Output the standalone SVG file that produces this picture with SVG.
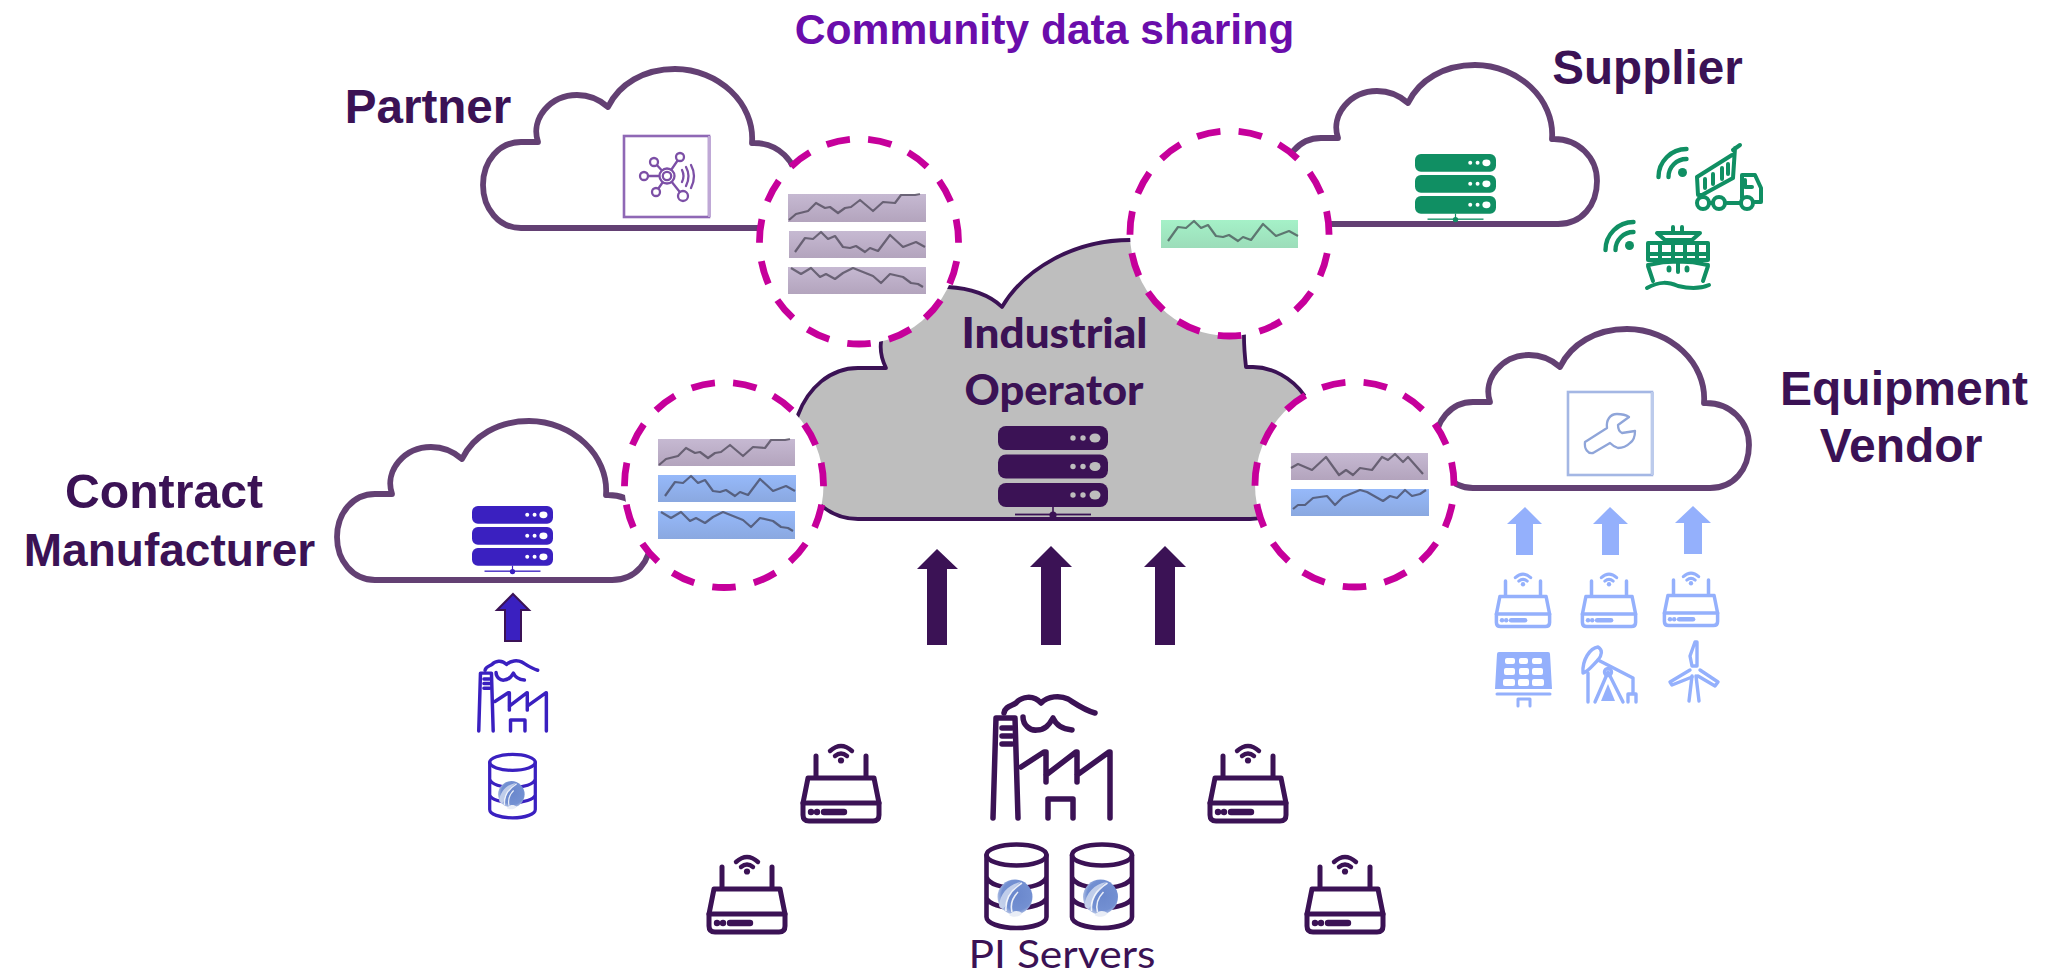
<svg xmlns="http://www.w3.org/2000/svg" xmlns:xlink="http://www.w3.org/1999/xlink" width="2045" height="976" viewBox="0 0 2045 976">
<style>
.cloud{fill:#fff;stroke:#634073;stroke-width:5.8;stroke-linejoin:round}
.ring{fill:#fff;stroke:#C6009B;stroke-width:6.8;stroke-dasharray:22.5 17.5;stroke-dashoffset:21.25}
.lab{font-family:"Liberation Sans",Arial,sans-serif;font-weight:700;font-size:47.6px;fill:#3B1255;text-anchor:middle}
.trace{fill:none;stroke:#33303f;stroke-opacity:.62;stroke-width:2.2;stroke-linejoin:round}
.ic{fill:none;stroke:currentColor;stroke-linecap:round;stroke-linejoin:round}
.f{fill:currentColor;stroke:none}
.dot{fill:var(--d,#fff)}
.cal{font-family:Lato,"Open Sans",sans-serif;fill:#3B1255;text-anchor:middle}
.dk{color:#3B1255}.bl{color:#3A20C0}.lb{color:#94B0FC}.gr{color:#108F63}
</style>
<defs>
<linearGradient id="gL" x1="0" y1="0" x2="0" y2="1"><stop offset="0" stop-color="#C6B9D2"/><stop offset="1" stop-color="#B3A4BD"/></linearGradient>
<linearGradient id="gB" x1="0" y1="0" x2="0" y2="1"><stop offset="0" stop-color="#96B9FA"/><stop offset="1" stop-color="#8AA8E0"/></linearGradient>
<linearGradient id="gG" x1="0" y1="0" x2="0" y2="1"><stop offset="0" stop-color="#A5F1C8"/><stop offset="1" stop-color="#9CDDBA"/></linearGradient>
<radialGradient id="gLogo" cx=".55" cy=".45" r=".6"><stop offset="0" stop-color="#6A87CC"/><stop offset=".72" stop-color="#7390D2"/><stop offset="1" stop-color="#C5D0EA"/></radialGradient>
<path id="cl" class="cloud" d="M375 580C353 580 337 561 337 537C337 513 353 494 375 494L392 494C384 470 405 447 431 447C443 447 453 451 462 459C473 436 498 421 529 421C572 421 609 455 606 495L608 495C632 495 651 513 651 537C651 561 636 580 612 580Z"/>
<polyline id="t1" class="trace" points="1,26 8,20 20,17 28,9 37,14 42,13 50,19 57,14 63,13 72,6 85,17 95,8 107,9 113,1 127,1 132,0"/>
<polyline id="t2" class="trace" points="7,21 17,7 25,8 33,1 40,8 47,5 55,16 62,17 68,15 77,21 82,17 90,20 102,4 115,16 128,11 137,16"/>
<polyline id="t3" class="trace" points="3,1 13,7 23,1 32,10 38,7 47,12 55,6 65,1 75,5 85,9 93,16 102,7 115,10 123,16 130,17 135,20"/>
<polyline id="t4" class="trace" points="0,15 7,11 21,17 35,4 48,22 55,17 62,22 69,15 81,17 91,4 97,7 104,1 112,9 117,4 132,21"/>
<polyline id="t5" class="trace" points="2,20 7,16 14,16 22,9 36,7 44,16 52,8 69,1 76,3 92,12 99,7 106,9 114,1 121,7 129,5 135,1"/>
<g id="srv">
<rect width="110" height="24" rx="8"/><rect y="28.5" width="110" height="24" rx="8"/><rect y="57" width="110" height="24" rx="8"/>
<g class="dot"><circle cx="75" cy="12" r="2.7"/><circle cx="85" cy="12" r="2.7"/><ellipse cx="97" cy="12" rx="5.5" ry="4.6"/><circle cx="75" cy="40.5" r="2.7"/><circle cx="85" cy="40.5" r="2.7"/><ellipse cx="97" cy="40.5" rx="5.5" ry="4.6"/><circle cx="75" cy="69" r="2.7"/><circle cx="85" cy="69" r="2.7"/><ellipse cx="97" cy="69" rx="5.5" ry="4.6"/></g>
<rect x="54.2" y="81" width="1.6" height="9"/><rect x="17" y="87.6" width="76" height="1.8"/><circle cx="55" cy="89" r="3.6"/>
</g>
<g id="rt">
<g class="ic" stroke-width="5">
<path d="M-25 13V35M25 13V35M-33 35H33M-33 35L-38 60M33 35L38 60"/>
<path d="M-38 60H38V72Q38 78 32 78H-32Q-38 78 -38 72Z"/>
<path d="M-11 8Q0 -2 11 8M-6 13Q0 8 6 13" stroke-width="4.4"/>
<path d="M-17 69H3" stroke-width="6.4"/>
</g>
<circle class="f" cx="0" cy="17.5" r="3.1"/><circle class="f" cx="-30" cy="69" r="3.2"/><circle class="f" cx="-24" cy="69" r="3.2"/>
</g>
<g id="fac" class="ic">
<path d="M993 818L996 718H1015L1018 818"/>
<path d="M1002 728H1012M1002 736H1012M1002 744H1012"/>
<path d="M1021 767L1044 752H1046V782M1046 775L1076 752H1077V782M1077 775L1109 752H1110V818"/>
<path d="M1048 818V799H1073V818"/>
<path d="M1004 713C1005 706 1012 706 1016 703C1021 697 1033 694 1041 703C1048 696 1060 695 1068 699C1076 704 1084 710 1095 713"/>
<path d="M1023 717C1023 725 1030 731 1037 730C1045 730 1049 725 1053 718C1056 725 1062 729 1072 730"/>
</g>
<g id="db">
<g class="ic"><ellipse cx="0" cy="11" rx="30" ry="10.5"/><path d="M-30 11V73C-30 79 -17 84 0 84C17 84 30 79 30 73V11M-30 33C-28 40 -15 44 0 44C15 44 28 40 30 33M-30 54C-28 60 -15 64 0 64C15 64 28 60 30 54"/></g>
<g transform="translate(-1.5,53)">
<circle r="17.5" fill="url(#gLogo)"/>
<path d="M-16 9C-15 -4 -6 -13 6 -15C-2 -9 -6 -3 -8 6C-10 11 -13 14 -16 9Z" fill="#C9D4EC" fill-opacity=".9"/>
<path d="M-9 14C-10 3 -4 -7 7 -14M-3 15C-5 7 -2 0 3 -5" fill="none" stroke="#fff" stroke-width="1.6" stroke-opacity=".85"/>
<path d="M-6 18C-2 13 3 13 7 16C6 20 -3 21 -6 18Z" fill="#E9EDF6"/>
</g>
</g>
<g id="wq" class="ic" stroke-width="4.4"><path d="M-28 0A28 28 0 0 1 0 -28M-18 0A18 18 0 0 1 0 -18"/><circle class="f" cx="-4" cy="-4.5" r="4.5"/></g>
</defs>

<g id="partner-cloud"><use href="#cl" transform="translate(146,-352)"/></g>
<g id="supplier-cloud"><use href="#cl" transform="translate(946,-356)"/></g>
<g id="contract-cloud"><use href="#cl"/></g>
<g id="equipment-cloud"><use href="#cl" transform="translate(1098,-92)"/></g>

<g id="operator-cloud">
<path fill="#BEBEBE" stroke="#3B1255" stroke-width="3.8" stroke-linejoin="round" d="M858 519C842 519 832 514 823 507C790 490 785 445 798 415C808 388 830 368 858 368L886 368C881 358 880 350 881 342C879 310 910 285 948 287C970 288 990 295 1002 307C1025 268 1075 240 1130 240C1190 240 1245 285 1244 337C1244 348 1245 358 1246 367L1253 367C1272 367 1292 378 1304 395C1320 420 1310 519 1250 519Z"/>
<text class="cal" x="1054.5" y="347.5" font-weight="900" font-size="42" textLength="186" lengthAdjust="spacingAndGlyphs">Industrial</text>
<text class="cal" x="1054" y="405" font-weight="900" font-size="42" textLength="179" lengthAdjust="spacingAndGlyphs">Operator</text>
<use href="#srv" transform="translate(998,426)" fill="#3B1255" style="--d:#BEBEBE"/>
</g>

<g id="partner-share">
<ellipse class="ring" cx="859" cy="241.5" rx="99.5" ry="102.5" pathLength="600"/>
<g transform="translate(788,194)"><rect width="138" height="28" fill="url(#gL)"/><use href="#t1"/></g>
<g transform="translate(789,231)"><rect width="137" height="27" fill="url(#gL)"/><use href="#t2" x="-1"/></g>
<g transform="translate(788,267)"><rect width="138" height="27" fill="url(#gL)"/><use href="#t3"/></g>
</g>
<g id="supplier-share">
<ellipse class="ring" cx="1229.5" cy="233.5" rx="99.5" ry="102.5" pathLength="600"/>
<g transform="translate(1161,220)"><rect width="137" height="28" fill="url(#gG)"/><use href="#t2"/></g>
</g>
<g id="contract-share">
<ellipse class="ring" cx="724" cy="485" rx="99.5" ry="102.5" pathLength="600"/>
<g transform="translate(658,439)"><rect width="137" height="27" fill="url(#gL)"/><use href="#t1"/></g>
<g transform="translate(658,475)"><rect width="138" height="27" fill="url(#gB)"/><use href="#t2"/></g>
<g transform="translate(658,511)"><rect width="137" height="28" fill="url(#gB)"/><use href="#t3"/></g>
</g>
<g id="equipment-share">
<ellipse class="ring" cx="1354.5" cy="484.5" rx="99.5" ry="102.5" pathLength="600"/>
<g transform="translate(1291,453)"><rect width="137" height="27" fill="url(#gL)"/><use href="#t4"/></g>
<g transform="translate(1291,489)"><rect width="138" height="27" fill="url(#gB)"/><use href="#t5"/></g>
</g>

<g id="connectors">
<path fill="#3B1255" d="M937 549L958 569H947V645H927V569H917Z"/>
<path fill="#3B1255" d="M1051 546L1072 567H1061V645H1041V567H1030Z"/>
<path fill="#3B1255" d="M1165 546L1186 567H1175V645H1155V567H1144Z"/>
<path fill="#3A20C0" stroke="#3B1255" stroke-width="2" d="M513 594L529 610H521V641H505V610H497Z"/>
<path fill="#94B0FC" d="M1525 507L1542 524H1533V555H1516V524H1507Z"/>
<path fill="#94B0FC" d="M1610 507L1628 524H1619V555H1602V524H1593Z"/>
<path fill="#94B0FC" d="M1693 506L1711 523H1702V554H1684V523H1675Z"/>
</g>

<g id="title"><text x="1044.5" y="44" font-family="'Liberation Sans',Arial,sans-serif" font-weight="700" font-size="42.6" fill="#6A0DAB" text-anchor="middle">Community data sharing</text></g>

<g id="partner">
<text class="lab" x="428" y="123">Partner</text>
<rect x="624" y="136" width="85" height="81" fill="#fff" stroke="#8F68B5" stroke-width="2.6"/>
<path d="M709 136V217" stroke="#BFA8D6" stroke-width="3" transform="translate(0.5,0)"/>
<g fill="none" stroke="#7C4FA6" stroke-width="2.3" stroke-linecap="round">
<path d="M667 176L654 162M667 176L680 157M667 176H644M667 176L656 192M667 176L683 196"/>
<path d="M682 170Q685 176 682 182M686 167Q691 176 686 186M691 165Q697 176 691 188"/>
<circle cx="654" cy="162" r="4" fill="#fff"/><circle cx="680" cy="157" r="4" fill="#fff"/><circle cx="644" cy="176" r="4" fill="#fff"/><circle cx="656" cy="192" r="4" fill="#fff"/><circle cx="683" cy="196" r="5" fill="#fff"/>
<circle cx="667" cy="176" r="7.5" fill="#fff"/><circle cx="667" cy="176" r="4.2"/>
</g>
</g>

<g id="supplier" class="gr">
<text class="lab" x="1647.5" y="84">Supplier</text>
<use href="#srv" transform="translate(1415,154) scale(.7364)" fill="#108F63"/>
<use href="#wq" transform="translate(1686.5,177)"/>
<use href="#wq" transform="translate(1633.5,250)"/>
<g class="ic" stroke-width="4">
<path d="M1697 177L1732 155M1733 150L1740 145M1735 148L1733 178L1702 195H1698L1697 177"/>
<path d="M1705 179V188M1713 174V184M1722 168V179M1728 164V174"/>
<path d="M1742 175H1755L1761 188V202H1755M1742 175V198M1745 180V187H1752M1710 203H1712M1727 203H1740"/>
<circle cx="1703" cy="203" r="6"/><circle cx="1719" cy="203" r="6"/><circle cx="1747" cy="203" r="6"/>
</g>
<g class="ic" stroke-width="4">
<path d="M1673 227V232M1682 227V232M1657 233H1700L1692 240H1665Z"/>
<rect x="1648" y="243" width="60" height="17"/>
<path d="M1660 243V260M1673 243V260M1685 243V260M1697 243V260M1648 254H1708"/>
<path d="M1648 265Q1678 258 1708 265M1648 266L1653 281M1708 266L1703 281M1678 264V272"/>
<path d="M1647 288C1660 281 1668 282 1678 286C1690 289 1700 289 1709 285"/>
<ellipse class="f" cx="1669" cy="269" rx="2.5" ry="3.6"/><ellipse class="f" cx="1687" cy="269" rx="2.5" ry="3.6"/>
</g>
</g>

<g id="contract" class="bl">
<text class="lab" x="164" y="508" style="font-size:48.2px">Contract</text>
<text class="lab" x="169.5" y="566" style="font-size:46px">Manufacturer</text>
<use href="#srv" transform="translate(472,506) scale(.7364)" fill="#3A20C0"/>
<use href="#fac" transform="translate(477,661) scale(.578) translate(-990,-697)" stroke-width="6"/>
<use href="#db" transform="translate(512.5,754) scale(.76)" stroke-width="4.3"/>
</g>

<g id="equipment" class="lb">
<text class="lab" x="1904" y="405" style="font-size:48px">Equipment</text>
<text class="lab" x="1901" y="462" style="font-size:48px">Vendor</text>
<rect x="1568" y="392" width="84" height="83" fill="#fff" stroke="#A4B7E4" stroke-width="2.6"/>
<path d="M1652.5 392V475" stroke="#BCCBEC" stroke-width="3"/>
<path fill="none" stroke="#8FA5D9" stroke-width="2.3" stroke-linejoin="round" d="M1585 442L1607 428C1606 420 1610 414 1617 414C1622 414 1626 415 1629 417L1618 425C1618 429 1620 432 1622 433L1635 431C1635 437 1633 441 1630 443C1626 447 1621 448 1618 448C1615 447 1612 445 1610 443L1593 453C1588 454 1584 449 1585 442Z"/>
<use href="#rt" transform="translate(1523,572) scale(.7)"/>
<use href="#rt" transform="translate(1609,572) scale(.7)"/>
<use href="#rt" transform="translate(1691,571) scale(.7)"/>
<g id="solar">
<path class="f" d="M1499 652H1548Q1550 652 1550 654L1552 689H1495L1497 654Q1497 652 1499 652Z"/>
<g fill="#fff"><rect x="1505" y="658" width="10" height="6" rx="2"/><rect x="1519" y="658" width="9" height="6" rx="2"/><rect x="1532" y="658" width="10" height="6" rx="2"/><rect x="1504" y="668" width="11" height="7" rx="2"/><rect x="1519" y="668" width="10" height="7" rx="2"/><rect x="1532" y="668" width="11" height="7" rx="2"/><rect x="1503" y="679" width="12" height="7" rx="2"/><rect x="1518" y="679" width="11" height="7" rx="2"/><rect x="1532" y="679" width="12" height="7" rx="2"/></g>
<path class="ic" stroke-width="3" d="M1497 694H1550M1518 706V699H1530V706"/>
</g>
<g id="pump" class="ic" stroke-width="3.4">
<path d="M1583 673C1582 660 1590 648 1598 647C1603 650 1602 655 1598 660C1592 666 1588 672 1583 673Z"/>
<path d="M1598 660L1633 678V692M1588 673V702M1608 672L1595 702M1608 672L1623 702M1628 702V694H1636V702"/>
<circle cx="1608" cy="672" r="3.5"/>
<path class="f" d="M1608 684L1615 701H1601Z"/>
</g>
<g id="wind" class="ic" stroke-width="3.4">
<path d="M1695 642L1690 656L1692 666H1697V642Z"/>
<path d="M1690 670L1670 682L1672 685L1692 677M1700 670L1718 682L1715 686L1698 676"/>
<path d="M1692 676L1689 701M1696 676L1699 701"/>
</g>
</g>

<g id="pi-site" class="dk">
<use href="#fac" stroke-width="5.5"/>
<use href="#db" transform="translate(1016.5,844)" stroke-width="4.6"/>
<use href="#db" transform="translate(1102,844)" stroke-width="4.6"/>
<text class="cal" x="1062" y="967.5" font-size="38.5" textLength="187" lengthAdjust="spacingAndGlyphs">PI Servers</text>
</g>
<g id="router-1" class="dk"><use href="#rt" transform="translate(841,743)"/></g>
<g id="router-2" class="dk"><use href="#rt" transform="translate(1248,743)"/></g>
<g id="router-3" class="dk"><use href="#rt" transform="translate(747,854)"/></g>
<g id="router-4" class="dk"><use href="#rt" transform="translate(1345,854)"/></g>
</svg>
